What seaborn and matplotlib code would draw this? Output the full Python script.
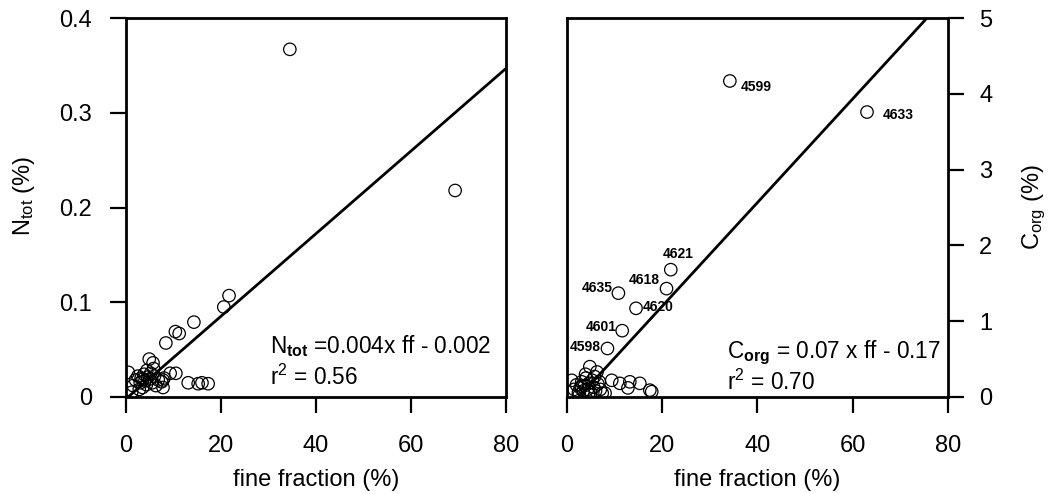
import matplotlib
matplotlib.use("Agg")
import matplotlib.pyplot as plt
import seaborn as sns
import numpy as np
import pandas as pd

# ---------------- data ----------------
ff_n = [34.5, 69.3, 21.7, 20.6, 14.3, 11.2, 10.4, 8.4, 4.9, 5.7, 0.5, 10.5, 9.3,
        13.1, 15.2, 16.0, 17.3, 7.8, 1.5, 2.0, 2.5, 3.0, 3.2, 3.5, 3.8, 4.0, 4.3,
        4.6, 5.0, 5.2, 5.5, 6.0, 6.3, 6.8, 7.5, 7.8, 8.0, 2.8, 1.2, 4.4, 5.8, 3.6]
ntot = [0.367, 0.218, 0.107, 0.095, 0.079, 0.067, 0.069, 0.057, 0.040, 0.036, 0.026,
        0.025, 0.025, 0.015, 0.014, 0.015, 0.014, 0.018, 0.012, 0.018, 0.022, 0.015,
        0.020, 0.010, 0.024, 0.017, 0.013, 0.021, 0.019, 0.025, 0.015, 0.022, 0.012,
        0.018, 0.016, 0.010, 0.020, 0.008, 0.005, 0.028, 0.030, 0.019]

ff_c = [34.2, 63.0, 21.8, 20.9, 10.8, 14.5, 11.6, 8.5, 4.8, 6.3, 1.0, 9.4, 11.1,
        13.2, 15.3, 12.8, 17.4, 17.8, 8.0, 1.5, 2.0, 2.4, 2.8, 3.1, 3.4, 3.7, 4.0,
        4.3, 4.6, 5.0, 5.3, 5.6, 6.0, 6.5, 7.0, 7.4, 2.6, 3.9, 5.8, 4.5, 3.0, 6.8]
corg = [4.17, 3.76, 1.68, 1.43, 1.37, 1.17, 0.875, 0.64, 0.40, 0.33, 0.22, 0.22, 0.18,
        0.20, 0.18, 0.12, 0.09, 0.07, 0.05, 0.10, 0.16, 0.06, 0.12, 0.20, 0.08, 0.15,
        0.25, 0.10, 0.18, 0.06, 0.22, 0.13, 0.08, 0.17, 0.10, 0.05, 0.03, 0.30, 0.27,
        0.04, 0.14, 0.20]

labels_c = ["4599", "4633", "4621", "4618", "4635", "4620", "4601", "4598"]
label_offsets = [(8, -4), (11, -2), (5, 11), (-5, 6), (-4, 4), (5, 1), (-4, 3), (-5, 1)]
label_ha = ["left", "left", "center", "right", "right", "left", "right", "right"]

fit_n = (0.00436, -0.002)
fit_c = (0.0684, -0.17)
eq_n = r"N$_{\mathbf{tot}}$ =0.004x ff - 0.002"
eq_c = r"C$_{\mathbf{org}}$ = 0.07 x ff - 0.17"
r2_n = r"r$^2$ = 0.56"
r2_c = r"r$^2$ = 0.70"

xticks = [0, 20, 40, 60, 80]
yticks_n = [0, 0.1, 0.2, 0.3, 0.4]
yticks_c = [0, 1, 2, 3, 4, 5]
ytick_labels_n = ["0", "0.1", "0.2", "0.3", "0.4"]

# ---------------- style ----------------
sns.set_theme(style="white")
plt.rcParams["font.family"] = ["Liberation Sans", "DejaVu Sans"]
plt.rcParams["mathtext.fontset"] = "custom"
plt.rcParams["mathtext.rm"] = "Liberation Sans"
plt.rcParams["mathtext.it"] = "Liberation Sans:italic"
plt.rcParams["mathtext.bf"] = "Liberation Sans:bold"

FS = 17
EQ = 16.3
fig = plt.figure(figsize=(10.56, 4.94), dpi=100)
ax1 = fig.add_axes([0.1193, 0.1964, 0.3598, 0.767])
ax2 = fig.add_axes([0.5369, 0.1964, 0.3608, 0.767])

df_n = pd.DataFrame({"ff": ff_n, "v": ntot})
df_c = pd.DataFrame({"ff": ff_c, "v": corg})

for ax, df, fit, ymax in [(ax1, df_n, fit_n, 0.4), (ax2, df_c, fit_c, 5)]:
    sns.scatterplot(data=df, x="ff", y="v", ax=ax, s=80, facecolor="none",
                    edgecolor="black", linewidth=0.9, zorder=3)
    x0 = -fit[1] / fit[0]
    x1 = min(80, (ymax - fit[1]) / fit[0])
    xs = np.array([x0, x1])
    sns.lineplot(x=xs, y=fit[0] * xs + fit[1], ax=ax, color="black", linewidth=2,
                 zorder=2)
    ax.set_xlim(0, 80)
    ax.set_ylim(0, ymax)
    ax.set_xticks(xticks)
    ax.set_xticklabels([str(t) for t in xticks])
    for s in ax.spines.values():
        s.set_visible(True)
        s.set_color("black")
        s.set_linewidth(2)
    ax.tick_params(axis="both", direction="out", length=11.5, width=1.6,
                   color="black", labelsize=FS, labelcolor="black")
    ax.tick_params(axis="x", pad=16, bottom=True)
    ax.set_xlabel("fine fraction (%)", fontsize=FS, color="black")
    ax.xaxis.set_label_coords(0.5, -0.19)
    ax.grid(False)

ax1.set_yticks(yticks_n)
ax1.set_yticklabels(ytick_labels_n)
ax1.tick_params(axis="y", left=True, right=False, pad=13)
ax1.set_ylabel(r"N$_{\mathregular{tot}}$ (%)", fontsize=FS, color="black")
ax1.yaxis.set_label_coords(-0.235, 0.53)

ax2.set_yticks(yticks_c)
ax2.set_yticklabels([str(t) for t in yticks_c])
ax2.yaxis.tick_right()
ax2.tick_params(axis="y", left=False, right=True, pad=11)
ax2.yaxis.set_label_position("right")
ax2.set_ylabel(r"C$_{\mathregular{org}}$ (%)", fontsize=FS, color="black",
               rotation=90)
ax2.yaxis.set_label_coords(1.19, 0.5)

# equations
ax1.text(30.3, 0.0464, eq_n, fontsize=EQ, color="black", va="baseline", ha="left")
ax1.text(30.3, 0.0127, r2_n, fontsize=EQ, color="black", va="baseline", ha="left")
ax2.text(33.6, 0.515, eq_c, fontsize=EQ, color="black", va="baseline", ha="left")
ax2.text(33.6, 0.10, r2_c, fontsize=EQ, color="black", va="baseline", ha="left")

# point labels
for i, lab in enumerate(labels_c):
    ax2.annotate(lab, (ff_c[i], corg[i]), xytext=label_offsets[i],
                 textcoords="offset points", ha=label_ha[i], va="center",
                 fontweight="bold", color="black", fontsize=10)

fig.savefig("out.png", dpi=100)
